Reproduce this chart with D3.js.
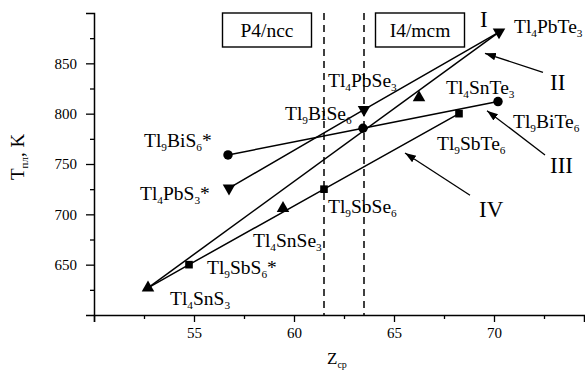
<!DOCTYPE html>
<html>
<head>
<meta charset="utf-8">
<script src="https://cdn.jsdelivr.net/npm/d3@7"></script>
<style>
  body { margin: 0; background: #fff; }
  svg, svg text { font-family: "Liberation Serif", "DejaVu Serif", serif; }
</style>
</head>
<body>
<div id="chart"></div>
<script>
// compounds: name, average atomic number Z, melting temperature T (K), marker shape
const names   = ["Tl_4SnS_3", "Tl_4SnSe_3", "Tl_4SnTe_3",
                 "Tl_4PbS_3*", "Tl_4PbSe_3", "Tl_4PbTe_3",
                 "Tl_9BiS_6*", "Tl_9BiSe_6", "Tl_9BiTe_6",
                 "Tl_9SbS_6*", "Tl_9SbSe_6", "Tl_9SbTe_6"];
const zValues = [52.7, 59.45, 66.25, 56.75, 63.5, 70.25, 56.7, 63.45, 70.2, 54.75, 61.5, 68.25];
const tValues = [627, 706, 816, 726, 804, 881, 759, 785.5, 812, 650, 725, 800];
const shapes  = ["up", "up", "up", "down", "down", "down", "circle", "circle", "circle", "square", "square", "square"];

// connecting lines (by compound index)
const lineI   = [3, 4, 5];
const lineII  = [0, 5];
const lineIII = [6, 7, 8];
const lineIV  = [0, 9, 10, 11];

// arrows pointing from numeral to line: [z0, t0, z1, t1]
const arrowNames = ["II", "III", "IV"];
const arrows = [[72.45, 841, 69.55, 860], [72.55, 759, 69.65, 803], [68.8, 719, 65.55, 761]];

// phase boundaries and regions
const boundaries = [61.5, 63.5];
const regions = ["P4/ncc", "I4/mcm"];
const regionZ = [58.65, 66.3];

const xMajor = [50, 55, 60, 65, 70];
const xMinor = [52.5, 57.5, 62.5, 67.5, 72.5];
const yMajor = [650, 700, 750, 800, 850];
const yMinor = [625, 675, 725, 775, 825, 875];

// label offsets in pixels relative to the marker
const labelOffsets = [[22, 17], [-30, 39], [27, -4], [-89, 12], [-36, -23], [15, 1],
                      [-84, -8], [-78, -8], [15, 26], [18, 9], [4, 24], [-22, 36]];

const width = 585, height = 370;
const serif = '"Liberation Serif", "DejaVu Serif", serif';
const x = d3.scaleLinear().domain([50, 74.5]).range([94, 584]);
const y = d3.scaleLinear().domain([600, 900]).range([315, 13]);

const svg = d3.select('#chart').append('svg')
  .attr('width', width).attr('height', height)
  .attr('font-family', serif);

svg.append('defs').append('marker')
  .attr('id', 'arrow').attr('viewBox', '0 0 10 10')
  .attr('refX', 10).attr('refY', 5)
  .attr('markerWidth', 11).attr('markerHeight', 11)
  .attr('markerUnits', 'userSpaceOnUse')
  .attr('orient', 'auto')
  .append('path').attr('d', 'M0,1.5 L10,5 L0,8.5 Z').attr('fill', '#000');

// write "Tl_4PbTe_3" with subscripts
function richText(sel, str, size) {
  const parts = str.split(/(_\d+)/).filter(s => s.length);
  let sub = false;
  parts.forEach(p => {
    if (p[0] === '_') {
      sel.append('tspan').attr('font-size', size * 0.58).attr('dy', 4).text(p.slice(1));
      sub = true;
    } else {
      const t = sel.append('tspan').text(p);
      if (sub) { t.attr('dy', -4); sub = false; }
    }
  });
}

// axes
const xAxis = svg.append('g').attr('transform', `translate(0, ${y(600)})`);
xAxis.call(d3.axisBottom(x).tickValues(xMajor).tickSize(7).tickPadding(5)
  .tickFormat(d => d === 50 ? '' : d));
xAxis.append('g').call(d3.axisBottom(x).tickValues(xMinor).tickSize(4).tickFormat(''))
  .select('.domain').remove();

const yAxis = svg.append('g').attr('transform', `translate(${x(50)}, 0)`);
yAxis.call(d3.axisLeft(y).tickValues(yMajor).tickSize(8).tickPadding(9));
yAxis.append('g').call(d3.axisLeft(y).tickValues(yMinor).tickSize(4).tickFormat(''))
  .select('.domain').remove();

[xAxis, yAxis].forEach(a => a.attr('font-family', serif).attr('font-size', 15));
svg.selectAll('.domain').attr('stroke', '#000').attr('stroke-width', 1.5);
svg.selectAll('.tick line').attr('stroke', '#000').attr('stroke-width', 1.3);
svg.selectAll('.tick text').attr('font-family', serif).attr('font-size', 15).attr('fill', '#000');

// axis titles
const yTitle = svg.append('text')
  .attr('transform', 'translate(24, 157) rotate(-90)')
  .attr('text-anchor', 'middle').attr('font-size', 19);
yTitle.append('tspan').text('T');
yTitle.append('tspan').attr('font-size', 11).attr('dy', 4).text('пл');
yTitle.append('tspan').attr('dy', -4).text(', K');

const xTitle = svg.append('text')
  .attr('x', 327).attr('y', 364).attr('font-size', 17);
xTitle.append('tspan').text('Z');
xTitle.append('tspan').attr('font-size', 10).attr('dy', 4).text('ср');

// phase boundaries
svg.selectAll('.boundary').data(boundaries).enter().append('line')
  .attr('x1', d => x(d)).attr('x2', d => x(d))
  .attr('y1', y(900)).attr('y2', y(600))
  .attr('stroke', '#000').attr('stroke-width', 1.5)
  .attr('stroke-dasharray', '7,5');

// region boxes
regions.forEach((r, i) => {
  const cx = x(regionZ[i]);
  svg.append('rect').attr('x', cx - 44.5).attr('y', 13).attr('width', 89).attr('height', 34)
    .attr('fill', '#fff').attr('stroke', '#000').attr('stroke-width', 1.4);
  svg.append('text').attr('x', cx).attr('y', 37).attr('text-anchor', 'middle')
    .attr('font-size', 19.5).text(r);
});

// lines
const line = d3.line().x(i => x(zValues[i])).y(i => y(tValues[i]));
[lineI, lineII, lineIII, lineIV].forEach(l => {
  svg.append('path').attr('d', line(l)).attr('fill', 'none')
    .attr('stroke', '#000').attr('stroke-width', 1.5);
});

// markers
const sym = {
  up: d3.symbol().type(d3.symbolTriangle).size(68),
  down: d3.symbol().type(d3.symbolTriangle).size(68),
  circle: d3.symbol().type(d3.symbolCircle).size(70),
  square: d3.symbol().type(d3.symbolSquare).size(58)
};
svg.selectAll('.pt').data(names).enter().append('path')
  .attr('d', (d, i) => sym[shapes[i]]())
  .attr('transform', (d, i) => `translate(${x(zValues[i])}, ${y(tValues[i])})` +
    (shapes[i] === 'down' ? ' rotate(180)' : ''))
  .attr('fill', '#000');

// compound labels
names.forEach((n, i) => {
  const t = svg.append('text')
    .attr('x', x(zValues[i]) + labelOffsets[i][0])
    .attr('y', y(tValues[i]) + labelOffsets[i][1])
    .attr('font-size', 19.5);
  richText(t, n, 19.5);
});

// arrows and numerals
arrows.forEach((a, i) => {
  svg.append('line')
    .attr('x1', x(a[0])).attr('y1', y(a[1]))
    .attr('x2', x(a[2])).attr('y2', y(a[3]))
    .attr('stroke', '#000').attr('stroke-width', 1.3)
    .attr('marker-end', 'url(#arrow)');
});
const numeralPos = [[480, 27], [550, 90], [550, 173], [479, 217]];
["I"].concat(arrowNames).forEach((n, i) => {
  svg.append('text').attr('x', numeralPos[i][0]).attr('y', numeralPos[i][1])
    .attr('font-size', 23).text(n);
});
</script>
</body>
</html>
